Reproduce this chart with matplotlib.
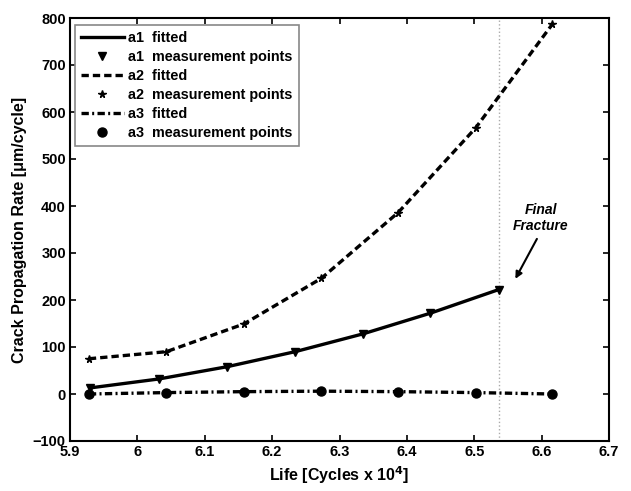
import matplotlib
matplotlib.use("Agg")
import matplotlib.pyplot as plt

plt.rcParams['font.family'] = ['Liberation Sans', 'DejaVu Sans']
plt.rcParams['font.weight'] = 'bold'

# Data
a1_x = [5.930, 6.032, 6.133, 6.234, 6.335, 6.435, 6.536]
a1_y = [13, 32, 58, 90, 128, 172, 222]
a2_x = [5.928, 6.043, 6.158, 6.273, 6.387, 6.502, 6.616]
a2_y = [75, 90, 149, 246, 386, 566, 787]
a3_x = [5.928, 6.043, 6.158, 6.273, 6.387, 6.502, 6.616]
a3_y = [0, 3, 5, 6, 5, 3, 0]
fracture_x = 6.536

x_ticks = [5.9, 6.0, 6.1, 6.2, 6.3, 6.4, 6.5, 6.6, 6.7]
x_tick_labels = ['5.9', '6', '6.1', '6.2', '6.3', '6.4', '6.5', '6.6', '6.7']
y_ticks = [-100, 0, 100, 200, 300, 400, 500, 600, 700, 800]

fig = plt.figure(figsize=(6.31, 4.91), dpi=100)
ax = fig.add_axes([70/631, 1-441/491, 539/631, 423/491])

lw = 2.4
# fitted lines
l1, = ax.plot(a1_x, a1_y, color='black', linestyle='-', linewidth=lw)
m1, = ax.plot(a1_x, a1_y, color='black', linestyle='none', marker='v', markersize=5.5)
l2, = ax.plot(a2_x, a2_y, color='black', linestyle=(0, (2.2, 1.2)), linewidth=lw)
m2, = ax.plot(a2_x, a2_y, color='black', linestyle='none', marker='*', markersize=5.5)
l3, = ax.plot(a3_x, a3_y, color='black', linestyle=(0, (2.2, 1.0, 0.6, 1.0)), linewidth=lw)
m3, = ax.plot(a3_x, a3_y, color='black', linestyle='none', marker='o', markersize=6.5)

ax.axvline(fracture_x, color='#aaaaaa', linestyle=':', linewidth=1.0, zorder=0)

ax.text(6.599, 374, 'Final\nFracture', ha='center', va='center', fontsize=10,
        fontweight='bold', fontstyle='italic', linespacing=1.2)
ax.annotate('', xy=(6.561, 245), xytext=(6.593, 330),
            arrowprops=dict(arrowstyle='-|>', color='black', lw=1.5, mutation_scale=10,
                            shrinkA=0, shrinkB=0))

ax.set_xlim(5.9, 6.7)
ax.set_ylim(-100, 800)
ax.set_xticks(x_ticks)
ax.set_xticklabels(x_tick_labels)
ax.set_yticks(y_ticks)
ax.tick_params(direction='in', length=4, width=1.2, top=True, right=True,
               labelsize=10.5, pad=3)
for lab in ax.get_xticklabels() + ax.get_yticklabels():
    lab.set_fontweight('bold')
for s in ax.spines.values():
    s.set_linewidth(1.5)

ax.set_xlabel('Life [Cycles x 10$^\\mathbf{4}$]', fontsize=11.5, fontweight='bold', labelpad=4)
ax.set_ylabel('Crack Propagation Rate [\u03bcm/cycle]', fontsize=11.5, fontweight='bold', labelpad=4)

leg = ax.legend([l1, m1, l2, m2, l3, m3],
                ['a1  fitted', 'a1  measurement points', 'a2  fitted',
                 'a2  measurement points', 'a3  fitted', 'a3  measurement points'],
                loc='upper left', bbox_to_anchor=(5/539, 1-7/423), borderaxespad=0,
                fancybox=False, framealpha=1, edgecolor='#888888',
                prop={'weight': 'bold', 'size': 10.4}, handlelength=3.0,
                labelspacing=0.35, handletextpad=0.3, borderpad=0.4)
leg.get_frame().set_linewidth(1.2)

fig.savefig('out.png', dpi=100)
